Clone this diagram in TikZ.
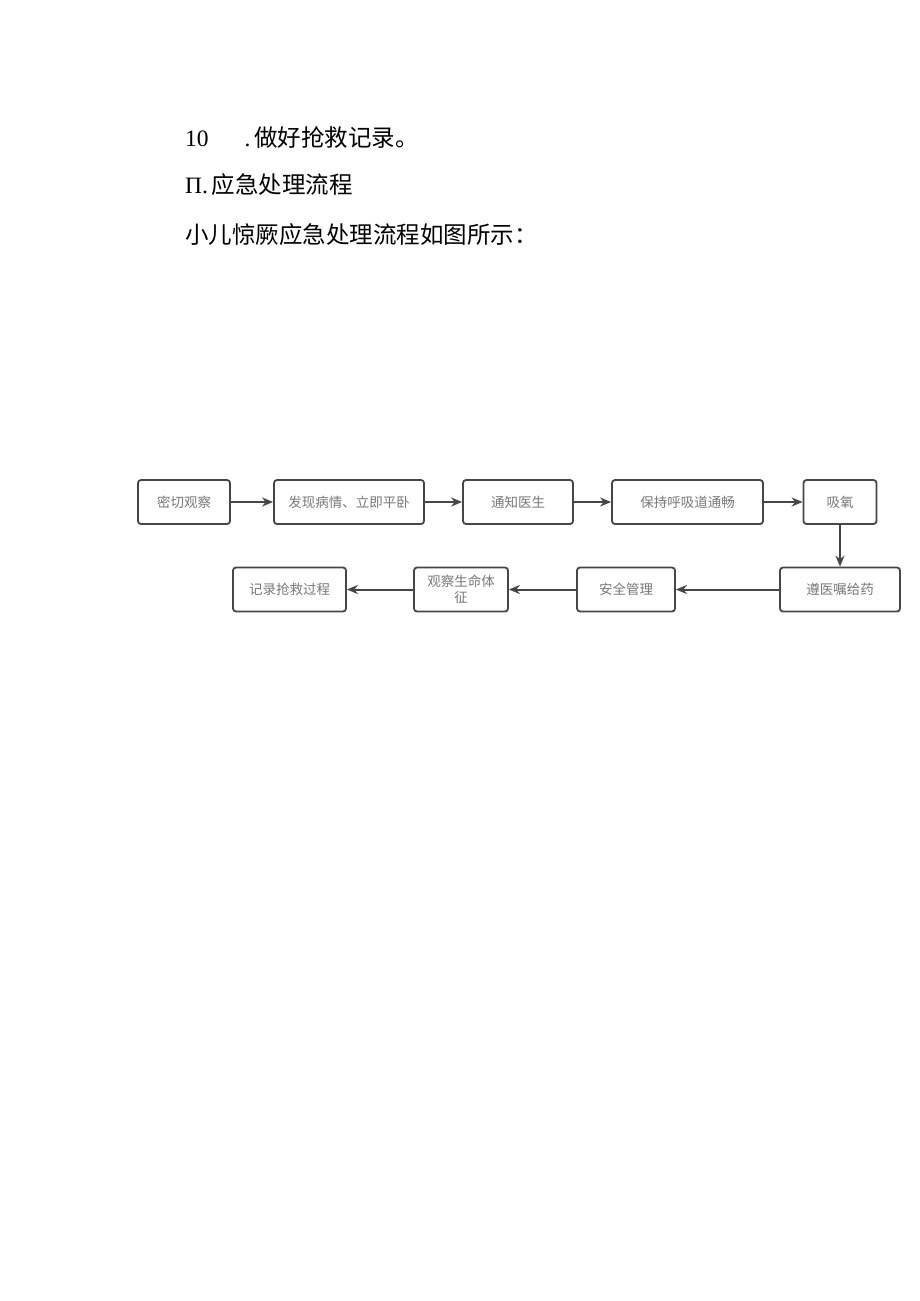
\documentclass[tikz,border=0pt]{standalone}
\usepackage{fontspec}
\setmainfont{Liberation Serif}
\newfontfamily\cjk{Noto Sans CJK SC}
\usetikzlibrary{arrows.meta}
\definecolor{trait}{RGB}{70,70,70}
\definecolor{gristexte}{RGB}{120,120,120}

\begin{document}
\begin{tikzpicture}[x=1pt,y=-1pt]
%cadre de la page
\useasboundingbox[fill=white] (0,0) rectangle (920,1301);
%styles des noeuds
\tikzstyle{titre}=[anchor=west,inner sep=0pt,font=\fontsize{23.5}{28}\selectfont]
\tikzstyle{etape}=[rectangle,draw=trait,line width=1.8pt,rounded corners=3pt,
minimum height=44pt,text=gristexte,align=center,
font=\cjk\fontsize{13.5}{15.5}\selectfont]
%style des fleches
\tikzstyle{suite}=[-{Stealth[length=11pt,width=9pt]},line width=2pt,draw=trait]
%texte au-dessus
\node[titre] (ligneA) at (185,137) {10\hspace{36pt}.\,{\cjk 做好抢救记录。}};
\node[titre] (ligneB) at (185,185) {Π.\,{\cjk 应急处理流程}};
\node[titre] (ligneC) at (185,235) {\cjk 小儿惊厥应急处理流程如图所示：};
%premiere rangee
\node[etape,minimum width=92pt] (observer) at (184,502) {密切观察};
\node[etape,minimum width=150pt] (allonger) at (349,502) {发现病情、立即平卧};
\node[etape,minimum width=110pt] (medecin) at (518,502) {通知医生};
\node[etape,minimum width=151pt] (voies) at (687.5,502) {保持呼吸道通畅};
\node[etape,minimum width=73pt] (oxygene) at (840,502) {吸氧};
%deuxieme rangee
\node[etape,minimum width=120pt] (donner) at (840,589.5) {遵医嘱给药};
\node[etape,minimum width=98pt] (securite) at (626,589.5) {安全管理};
\node[etape,minimum width=94pt,text width=72pt] (signes) at (461,589.5) {观察生命体\\征};
\node[etape,minimum width=113pt] (noter) at (289.5,589.5) {记录抢救过程};
%placement des fleches
\draw[suite] (observer) -- (allonger);
\draw[suite] (allonger) -- (medecin);
\draw[suite] (medecin) -- (voies);
\draw[suite] (voies) -- (oxygene);
\draw[suite] (oxygene) -- (donner);
\draw[suite] (donner) -- (securite);
\draw[suite] (securite) -- (signes);
\draw[suite] (signes) -- (noter);
\end{tikzpicture}
\end{document}
